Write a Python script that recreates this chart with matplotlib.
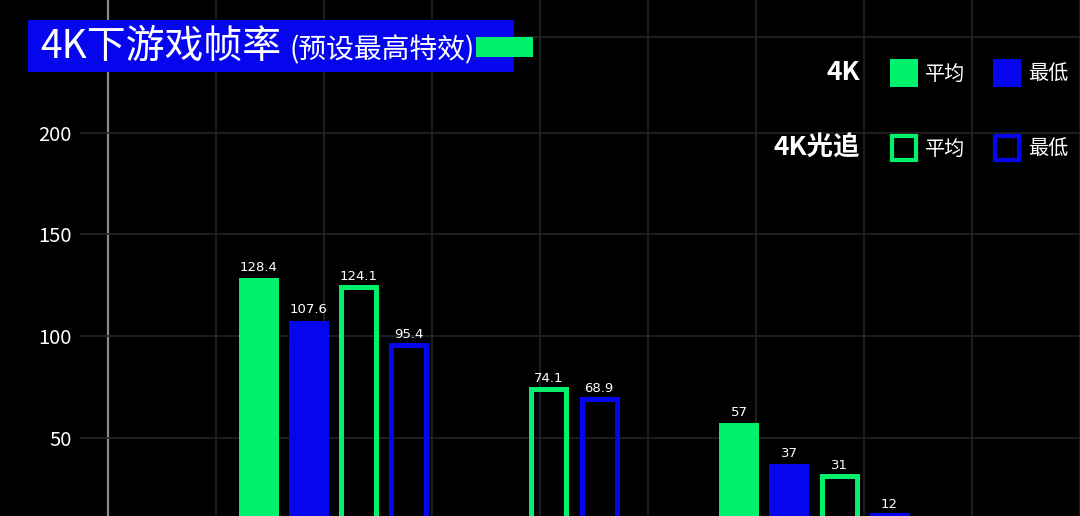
import numpy as np
import matplotlib
matplotlib.use("Agg")
import matplotlib.pyplot as plt
from matplotlib.patches import Rectangle

plt.rcParams['font.family'] = ['Noto Sans CJK SC', 'DejaVu Sans']

# data (groups are unnamed in the crop)
groups = ['游戏1', '游戏2', '游戏3']
avg_4k = [128.4, np.nan, 57]
min_4k = [107.6, np.nan, 37]
avg_rt = [124.1, 74.1, 31]
min_rt = [95.4, 68.9, 12]
y_ticks = [50, 100, 150, 200]

GREEN = '#00f26d'
BLUE = '#0606ee'
W, H = 1080, 516

fig = plt.figure(figsize=(W / 100, H / 100), dpi=100, facecolor='black')
left = 80 / W
ax = fig.add_axes([left, 0, 1 - left, 1])
ax.set_facecolor('black')
ax.set_xlim(-1.0583, 3.1083)
ax.set_ylim(11.5, 265.2)

def px(x, y):
    # pixel position (top-left origin) -> figure fraction
    return x / W, 1 - y / H

# grid
ax.set_yticks(y_ticks)
ax.set_xticks(np.arange(-0.9417, 3.11, 0.45)[1:])
ax.grid(True, color='#232323', lw=1.2)
ax.axhline(247, color='#232323', lw=1.2, zorder=0.5)
ax.tick_params(axis='y', colors='white', labelsize=14.5, length=0, pad=6)
ax.tick_params(axis='x', length=0, labelbottom=False)
for s in ax.spines.values():
    s.set_visible(False)
ax.axvline(-0.9417, color='#8a8a8a', lw=1.6, zorder=1)

# bars
width = 40 / 240
step = 50 / 240
lw_pt = 3.6
edge_shrink = lw_pt / 72 * 100 / 240
series = [(avg_4k, True, GREEN), (min_4k, True, BLUE),
          (avg_rt, False, GREEN), (min_rt, False, BLUE)]
for gi in range(len(groups)):
    present = [s for s in series if not np.isnan(s[0][gi])]
    n = len(present)
    for i, (vals, filled, col) in enumerate(present):
        x = gi + (i - (n - 1) / 2) * step
        v = vals[gi]
        if filled:
            ax.bar(x, v, width=width, color=col, zorder=3)
        else:
            ax.bar(x, v, width=width - edge_shrink, facecolor='none',
                   edgecolor=col, lw=lw_pt, zorder=3)
        lab = f'{v:g}'
        ax.annotate(lab, (x, v), xytext=(0, 3), textcoords='offset points',
                    ha='center', va='bottom', color='white', fontsize=9.5,
                    family='DejaVu Sans', zorder=4)

# title box
x0, y0 = px(28, 72)
fig.add_artist(Rectangle((x0, y0), 486 / W, 52 / H, transform=fig.transFigure,
                         facecolor=BLUE, edgecolor='none', zorder=5))
x0, y0 = px(476, 57)
fig.add_artist(Rectangle((x0, y0), 57 / W, 20 / H, transform=fig.transFigure,
                         facecolor=GREEN, edgecolor='none', zorder=6))
fig.text(*px(40, 47), '4K下游戏帧率', color='white', fontsize=28,
         va='center', ha='left', zorder=7)
fig.text(*px(289, 50), '(预设最高特效)', color='white', fontsize=20,
         va='center', ha='left', zorder=7)

# legend
rows = [('4K', 73, True), ('4K光追', 148, False)]
for name, yc, filled in rows:
    fig.text(*px(860, yc), name, color='white', fontsize=19, weight='bold',
             ha='right', va='center', zorder=7)
    for xs, col, lab in [(890, GREEN, '平均'), (993, BLUE, '最低')]:
        if filled:
            x0, y0 = px(xs, yc + 14)
            fig.add_artist(Rectangle((x0, y0), 28 / W, 28 / H,
                                     transform=fig.transFigure, facecolor=col,
                                     edgecolor='none', zorder=6))
        else:
            x0, y0 = px(xs + 2, yc + 12)
            fig.add_artist(Rectangle((x0, y0), 24 / W, 24 / H,
                                     transform=fig.transFigure, facecolor='none',
                                     edgecolor=col, lw=3, zorder=6))
        fig.text(*px(xs + 35, yc + 1), lab, color='white', fontsize=14.5,
                 ha='left', va='center', zorder=7)

fig.savefig('out.png', dpi=100, facecolor='black')
